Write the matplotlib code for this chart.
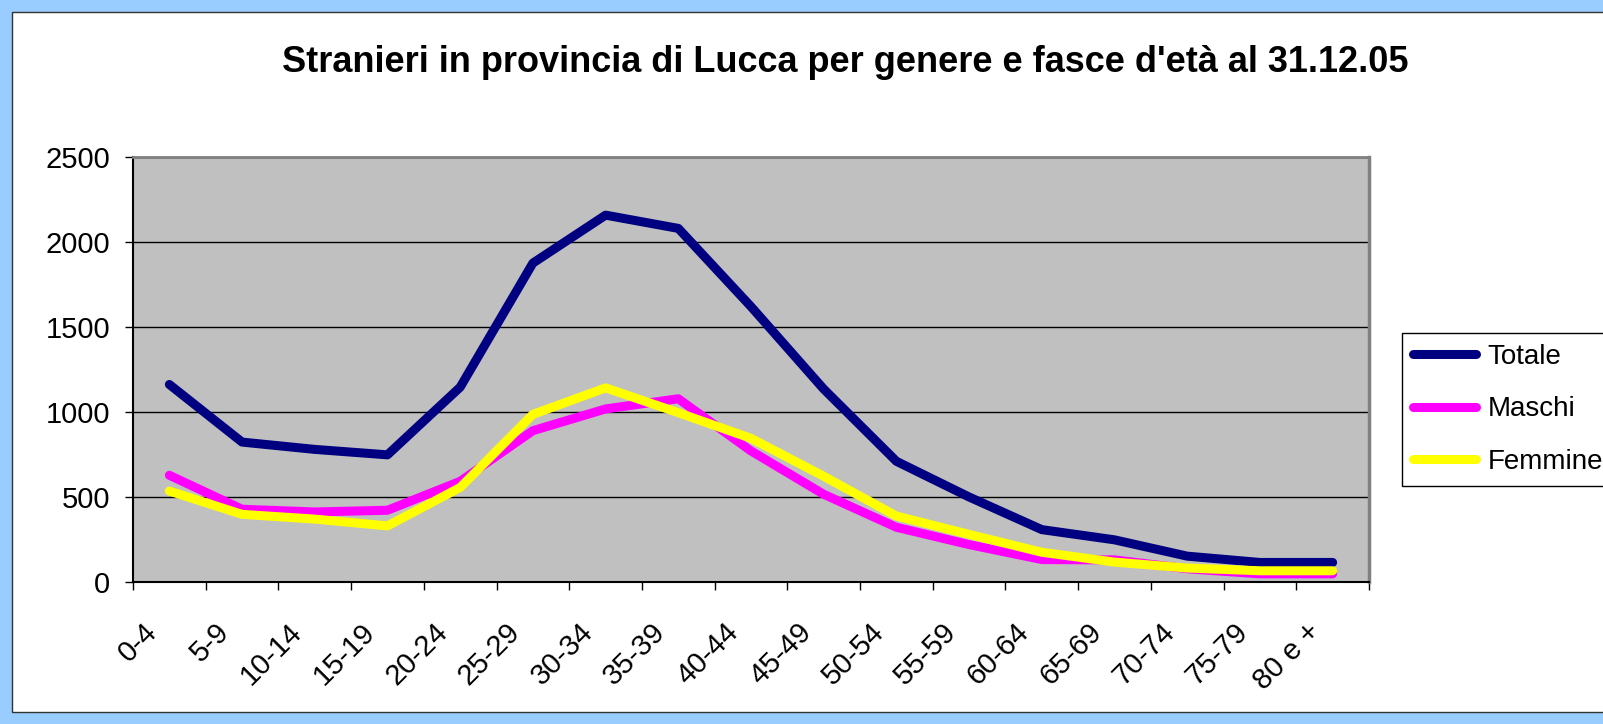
import numpy as np
import matplotlib.pyplot as plt
from matplotlib.patches import Rectangle
from matplotlib.transforms import ScaledTranslation

fasce = ['0-4', '5-9', '10-14', '15-19', '20-24', '25-29', '30-34', '35-39', '40-44',
         '45-49', '50-54', '55-59', '60-64', '65-69', '70-74', '75-79', '80 e +']
totale = [1162, 823, 780, 748, 1146, 1876, 2158, 2080, 1620, 1135, 710, 500, 308, 248, 152, 115, 115]
maschi = [628, 428, 412, 422, 592, 890, 1018, 1078, 771, 516, 322, 220, 132, 130, 78, 48, 48]
femmine = [535, 398, 370, 330, 556, 986, 1142, 996, 845, 622, 388, 280, 175, 117, 82, 66, 66]

plt.rcParams['font.family'] = ['Liberation Sans', 'DejaVu Sans']

W, H = 1603, 724
fig = plt.figure(figsize=(W / 100, H / 100), dpi=100, facecolor='#99CCFF')

# white chart area inside the light blue frame
fig.add_artist(Rectangle((12 / W, 12 / H), 1.0, 700 / H, transform=fig.transFigure,
                         facecolor='white', edgecolor='#333333', linewidth=1, zorder=-1))

ax = fig.add_axes([133 / W, 1 - 582 / H, (1369 - 133) / W, (582 - 157) / H])
ax.set_facecolor('#C0C0C0')

x = np.arange(len(fasce)) + 0.5
ax.plot(x, totale, color='#000080', lw=6.5, solid_capstyle='round', label='Totale')
ax.plot(x, maschi, color='#FF00FF', lw=6.5, solid_capstyle='round', label='Maschi')
ax.plot(x, femmine, color='#FFFF00', lw=6.5, solid_capstyle='round', label='Femmine')

ax.set_xlim(0, len(fasce))
ax.set_ylim(0, 2500)
ax.set_yticks(range(0, 2501, 500))
ax.yaxis.grid(True, color='black', lw=1)
ax.set_axisbelow(True)

ax.spines['left'].set_color('black')
ax.spines['bottom'].set_color('black')
ax.spines['left'].set_linewidth(1.5)
ax.spines['bottom'].set_linewidth(1.5)
ax.spines['top'].set_color('#808080')
ax.spines['right'].set_color('#808080')
ax.spines['top'].set_linewidth(2)
ax.spines['right'].set_linewidth(2.5)

ax.tick_params(axis='y', direction='out', length=5.8, width=1, pad=10.5, labelsize=21)
ax.set_xticks(np.arange(0, len(fasce) + 1))
ax.tick_params(axis='x', which='major', direction='out', length=5.8, width=1, labelbottom=False)
ax.set_xticks(x, minor=True)
ax.set_xticklabels(fasce, minor=True, rotation=45, ha='right', va='top', fontsize=21)
ax.tick_params(axis='x', which='minor', length=0, pad=26)
for lab in ax.get_xticklabels(minor=True):
    lab.set_transform(lab.get_transform() + ScaledTranslation(-0.07, 0, fig.dpi_scale_trans))

fig.text(845 / W, 1 - 62 / H, "Stranieri in provincia di Lucca per genere e fasce d'età al 31.12.05",
         ha='center', va='center', fontsize=26, fontweight='bold')

leg = ax.legend(loc='upper left', bbox_to_anchor=(1402 / W, 1 - 333 / H),
                bbox_transform=fig.transFigure, fontsize=20, frameon=True, fancybox=False,
                framealpha=1, edgecolor='black', handlelength=2.25, handletextpad=0.42,
                borderaxespad=0, borderpad=0.4, labelspacing=0.95)
leg.get_frame().set_linewidth(1)

fig.savefig('out.png', dpi=100)
